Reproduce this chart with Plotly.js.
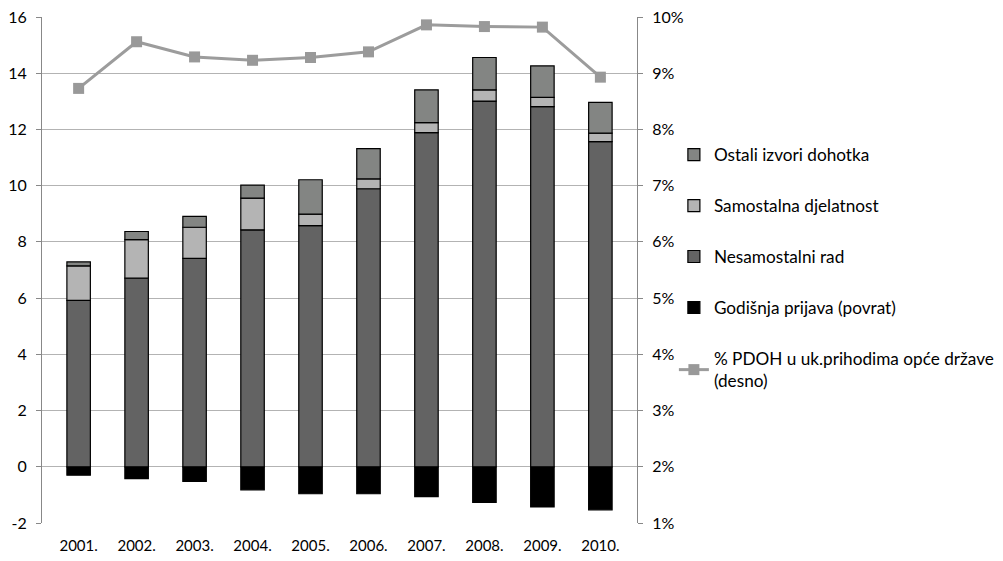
<!DOCTYPE html>
<html>
<head>
<meta charset="utf-8">
<script src="https://cdn.plot.ly/plotly-3.0.1.min.js"></script>
<style>html,body{margin:0;padding:0;background:#fff;}#chart{width:1003px;height:561px;}</style>
</head>
<body>
<div id="chart"></div>
<script>
var years = ["2001.","2002.","2003.","2004.","2005.","2006.","2007.","2008.","2009.","2010."];
var godisnja = [-0.30,-0.42,-0.52,-0.82,-0.96,-0.96,-1.06,-1.27,-1.43,-1.53];
var nesamostalni = [5.92,6.71,7.41,8.43,8.58,9.89,11.89,13.01,12.81,11.57];
var samostalna = [1.23,1.37,1.11,1.13,0.41,0.35,0.35,0.40,0.33,0.30];
var ostali = [0.14,0.29,0.39,0.46,1.22,1.08,1.17,1.15,1.12,1.09];
var pdoh = [8.73,9.56,9.29,9.23,9.28,9.38,9.86,9.83,9.82,8.93];
var yTicks = [-2,0,2,4,6,8,10,12,14,16];
var yTickText = ["-2","0","2","4","6","8","10","12","14","16"];
var y2Ticks = [1,2,3,4,5,6,7,8,9,10];
var y2TickText = ["1%","2%","3%","4%","5%","6%","7%","8%","9%","10%"];
var yRange = [-2,16];
var y2Range = [1,10];

var FONT = "Lato, 'Liberation Sans', sans-serif";
var NARROW = "'Liberation Sans Narrow', 'Arial Narrow', Lato, sans-serif";
var bl = {color:"#000", width:1.2};
var traces = [
  {type:"bar", name:"Godišnja prijava (povrat)", x:years, y:godisnja, marker:{color:"#000000", line:bl}, legendrank:4, legendgroup:"g4"},
  {type:"bar", name:"Nesamostalni rad", x:years, y:nesamostalni, marker:{color:"#636363", line:bl}, legendrank:3, legendgroup:"g3"},
  {type:"bar", name:"Samostalna djelatnost", x:years, y:samostalna, marker:{color:"#b4b4b4", line:bl}, legendrank:2, legendgroup:"g2"},
  {type:"bar", name:"Ostali izvori dohotka", x:years, y:ostali, marker:{color:"#838583", line:bl}, legendrank:1, legendgroup:"g1"},
  {type:"scatter", mode:"lines+markers", name:"% PDOH u uk.prihodima opće države<br>(desno)", x:years, y:pdoh, yaxis:"y2",
   line:{color:"#9c9c9c", width:3}, marker:{symbol:"square", size:11, color:"#999999"}, legendrank:5, legendgroup:"g5"}
];

var zeroPos = (0 - yRange[0]) / (yRange[1] - yRange[0]);

var layout = {
  width:1003, height:561,
  margin:{l:42, r:366, t:17, b:38, autoexpand:false},
  paper_bgcolor:"#fff", plot_bgcolor:"#fff",
  font:{family:FONT, size:15, color:"#000"},
  barmode:"relative",
  bargap:0.595,
  showlegend:true,
  legend:{x:1.062, y:0.763, xanchor:"left", yanchor:"top", traceorder:"grouped", tracegroupgap:25.6,
          font:{family:FONT, size:17.2, color:"#000"}, itemwidth:30, bgcolor:"rgba(0,0,0,0)", borderwidth:0},
  xaxis:{type:"category", showline:false, ticks:"", showgrid:false, zeroline:false,
         tickfont:{family:NARROW, size:15}, ticklabelstandoff:12},
  xaxis2:{overlaying:"x", anchor:"free", position:zeroPos, range:[0,10], tick0:0, dtick:1,
          showline:true, linecolor:"#888", linewidth:1, ticks:"outside", ticklen:5, tickcolor:"#888",
          showticklabels:false, showgrid:false, zeroline:false},
  yaxis:{range:yRange, tickvals:yTicks, ticktext:yTickText, showline:true, linecolor:"#888", linewidth:1,
         ticks:"outside", ticklen:5, tickcolor:"#888", gridcolor:"#b3b3b3", gridwidth:1, zeroline:false,
         tickfont:{family:FONT, size:16}, ticklabelstandoff:6},
  yaxis2:{overlaying:"y", side:"right", range:y2Range, tickvals:y2Ticks, ticktext:y2TickText,
          showline:true, linecolor:"#888", linewidth:1, ticks:"outside", ticklen:5, tickcolor:"#888",
          showgrid:false, zeroline:false, tickfont:{family:FONT, size:16}, ticklabelstandoff:6}
};

Plotly.newPlot("chart", traces, layout, {displayModeBar:false, staticPlot:true});
</script>
</body>
</html>
